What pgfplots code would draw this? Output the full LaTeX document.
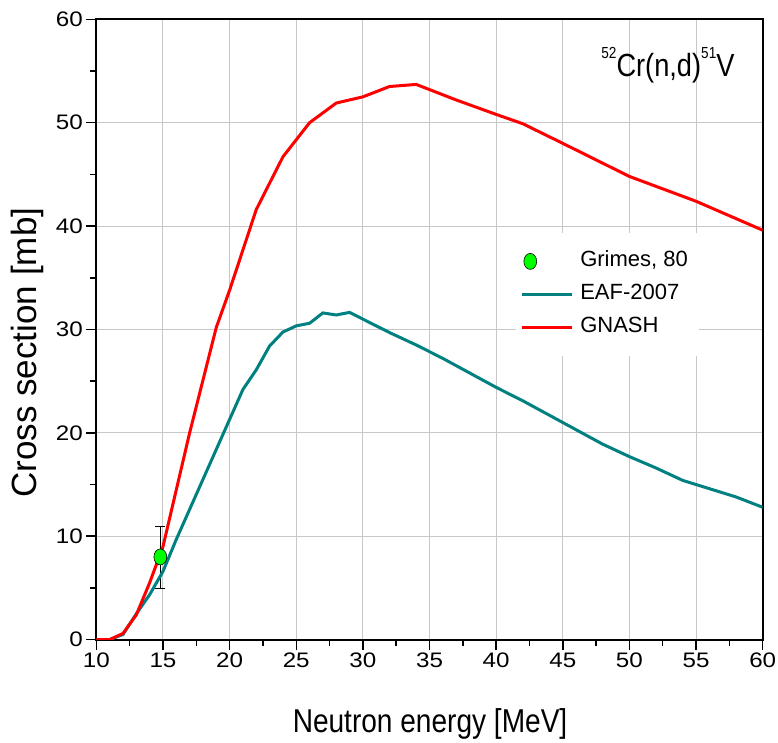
\documentclass[border=0pt]{standalone}
\usepackage{fontspec}
\setmainfont{Liberation Sans}
\newfontfamily\narrowfont{Liberation Sans}[FakeStretch=0.85]
\newfontfamily\tickfamily{Liberation Sans}[FakeStretch=1.15]
\usepackage{pgfplots}
\pgfplotsset{compat=1.18}
\definecolor{eafteal}{RGB}{0,128,128}
\definecolor{gnashred}{RGB}{255,0,0}
\definecolor{ptgreen}{RGB}{0,255,0}
\pgfplotsset{linelegend/.style={legend image code/.code={\draw[##1] (0pt,0pt) -- (50pt,0pt);}}}
\newcommand{\tickfont}{\tickfamily\fontsize{21}{21}\selectfont}
\newcommand{\titlesup}[1]{\raisebox{18pt}{\fontsize{16}{16}\selectfont #1}}
\begin{document}
\begin{tikzpicture}
\begin{axis}[
  scale only axis, width=666pt, height=620pt,
  xmin=10, xmax=60, ymin=0, ymax=60,
  xtick={10,15,...,60}, ytick={0,10,...,60},
  minor x tick num=1, minor y tick num=1,
  tick pos=left, tick align=outside,
  major tick length=10pt, minor tick length=6pt,
  every tick/.style={black, line width=1.5pt},
  axis line style={line width=2pt},
  grid=major, major grid style={draw=black!22, line width=1pt},
  xticklabels={10,15,20,25,30,35,40,45,50,55,60},
  yticklabels={0,10,20,30,40,50,60},
  every tick label/.append style={font=\tickfont},
  xticklabel style={font=\tickfont},
  yticklabel style={font=\tickfont},
  xlabel={\narrowfont\fontsize{33}{33}\selectfont Neutron energy [MeV]},
  ylabel={\fontsize{35}{35}\selectfont Cross section [mb]},
  xlabel style={at={(axis description cs:0.5008,0)}, anchor=base, yshift=-93pt},
  ylabel style={at={(axis description cs:-0.1035,0.4626)}, anchor=center},
  legend style={at={(axis description cs:0.6298,0.656)}, anchor=north west,
    draw=none, fill=white, inner xsep=4pt, inner ysep=12pt, row sep=0pt,
    font=\fontsize{22}{22}\selectfont,
    nodes={inner xsep=7pt, inner ysep=6pt, text height=16pt, text depth=5pt}},
  legend cell align=left,
]
\addplot[only marks, mark=*, mark size=8pt,
  mark options={xscale=0.8, fill=ptgreen, draw=black, line width=0.6pt},
  error bars/.cd, y dir=both, y explicit,
  error bar style={black, line width=0.8pt},
  error mark options={rotate=90, mark size=5pt, black, line width=0.8pt}]
  coordinates {(14.8,8) +- (0,3)};
\addlegendentry{Grimes, 80}
\addplot[eafteal, line width=3pt, linelegend]
  coordinates {(10,0) (11,0) (12,0.5) (13,2.5) (14,4.35) (15,6.6) (16,9.7) (18,15.5) (20,21.3)
  (21,24.2) (22,26.1) (23,28.4) (24,29.75) (25,30.35) (26,30.6) (27,31.6) (28,31.4) (29,31.65)
  (30,31.0) (32,29.7) (34,28.5) (36,27.2) (38,25.8) (40,24.4) (42,23.1) (44,21.7) (45,21.0)
  (48,18.9) (50,17.7) (52,16.6) (54,15.4) (55,15.0) (58,13.8) (60,12.8)};
\addlegendentry{EAF-2007}
\addplot[gnashred, line width=3pt, linelegend]
  coordinates {(10,0) (11,0) (12,0.6) (13,2.4) (14,5.5) (15,9.0) (17,20.0) (19,30.2) (20,33.8)
  (22,41.6) (24,46.7) (26,50.0) (28,51.9) (30,52.5) (32,53.5) (34,53.7) (37,52.2) (40,50.8)
  (42,49.9) (45,48.0) (50,44.8) (55,42.4) (60,39.6)};
\addlegendentry{GNASH}
\node[anchor=base east, inner sep=0pt, font=\narrowfont\fontsize{32}{32}\selectfont]
  at ([xshift=-28pt,yshift=-57pt]rel axis cs:1,1) {\titlesup{52}Cr(n,d)\titlesup{51}V};
\end{axis}
\pgfresetboundingbox
\path[use as bounding box] ([xshift=-96.3pt,yshift=-103.3pt]current axis.south west) rectangle ([xshift=15.3pt,yshift=19.3pt]current axis.north east);
\end{tikzpicture}
\end{document}
